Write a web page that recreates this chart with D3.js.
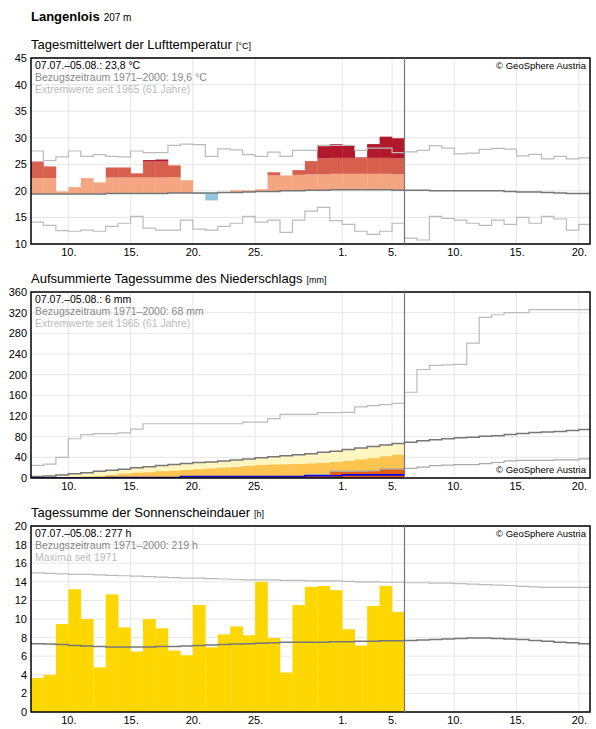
<!DOCTYPE html>
<html><head><meta charset="utf-8">
<script src="https://cdn.jsdelivr.net/npm/d3@7"></script>
<style>body{margin:0;background:#fff;font-family:"Liberation Sans",Arial,sans-serif}</style>
</head><body><svg id="c" width="596" height="729"></svg>
<script>
// ---- data (day index 0 = 07.07.) ----
const tickDays = [3,8,13,18,25,29,34,39,44];
const tickLabels = ["10.","15.","20.","25.","1.","5.","10.","15.","20."];
const tempObs = [25.5,24.6,19.9,20.7,22.4,21.6,24.4,24.4,23.3,25.8,25.9,24.8,22.0,19.4,18.2,19.7,20.1,20.1,20.3,23.5,22.9,23.9,25.6,28.4,28.8,28.6,26.3,28.8,30.2,29.9];
const tempMean = [19.4,19.4,19.4,19.4,19.4,19.4,19.5,19.5,19.5,19.5,19.5,19.6,19.6,19.6,19.6,19.7,19.7,19.8,19.9,19.9,20.0,20.0,20.1,20.1,20.2,20.2,20.2,20.2,20.2,20.1,20.1,20.1,20.0,20.0,20.0,20.0,20.0,20.0,19.9,19.8,19.8,19.7,19.6,19.5,19.5];
const tempMax = [27.5,25.7,26.4,27.5,26.5,26.8,26.5,26.4,27.5,27.2,27.2,28.55,28.8,28.7,26.5,27.9,27.7,26.8,26.5,27.3,26.5,27.6,27.6,28.55,28.55,28.55,27.6,28.05,28.05,27.2,27.35,27.6,28.5,28.05,26.95,27.1,27.8,28.0,27.85,26.6,26.85,26.0,26.5,26.0,26.2];
const tempMin = [14.1,13.5,12.5,12.4,12.6,12.4,13.3,13.9,15.2,13.0,12.6,12.6,14.5,12.8,12.6,13.3,13.9,15.2,14.1,14.5,12.2,14.5,16.2,16.9,14.4,13.7,12.4,11.8,12.4,13.9,11.1,10.75,15.2,14.8,14.5,13.9,13.5,14.5,13.7,15.0,13.9,15.2,14.7,12.6,13.7];

const precObs = [0,0,0,0,0,0,1,1,1,1,1,1,3,3,3,3,3,3,3,3,3,3,4.5,4.5,4.5,6,6,6,6,6];
const precMean = [3,4,6,8,10,13,15,17,20,22,24,26,28,30,31,33,35,37,39,41,43,45,47,50,52,55,58,61,64,67,69,72,74,76,78,79,81,82,84,86,88,89,90,92,94];
const precMax = [24.6,27,40,76,84,86,86,87.5,94.5,105,105,105,105,105,105,105,105,108,108,115,123,123,123,126.6,126.6,127,137.6,140,142,144.6,166,210,218,219,220,261,311,316,320,320,326,326,326,326,326];
const precMin = [0,0,0,0,0,0,0,0,0,0,0,0,0,0,0,0,0,0,0,0,0,0,7,7,13.5,13.5,13.5,14,17.5,17.5,18.5,21,24,25,26,26,28,30,33,34,34,34,35,35,37];
const precOrange = [0,0.5,1,2,3,4,6,8,10,11,13,14,15.5,17,18.5,20,21.5,23,25,26,26.5,27,28,29,31,33,36,38,42,45];
const precDark = [0,0,0,0,0,0,0,0,0,0,0,0,0,0,0,0,0,0,0,0,0,0,6,6,12,12,13,13,17,17];

const sunObs = [3.65,4.0,9.45,13.2,10.0,4.8,12.65,9.1,6.5,10.0,9.0,6.6,6.1,11.5,6.95,8.35,9.2,8.25,14.0,7.95,4.25,11.5,13.45,13.55,13.1,8.9,7.15,11.4,13.55,10.75];
const sunMax = [14.95,14.9,14.85,14.8,14.8,14.75,14.7,14.65,14.6,14.55,14.5,14.45,14.4,14.4,14.35,14.3,14.25,14.2,14.2,14.2,14.15,14.15,14.1,14.1,14.1,14.05,14.0,14.0,13.95,13.95,13.9,13.9,13.85,13.85,13.8,13.75,13.7,13.65,13.6,13.5,13.45,13.4,13.4,13.4,13.4];
const sunMean = [7.35,7.3,7.25,7.15,7.1,7.05,7.0,7.0,7.0,7.0,7.05,7.05,7.1,7.15,7.2,7.25,7.3,7.35,7.4,7.45,7.5,7.5,7.5,7.5,7.55,7.55,7.6,7.6,7.65,7.65,7.7,7.75,7.8,7.85,7.9,7.95,7.95,7.9,7.85,7.8,7.7,7.6,7.5,7.45,7.35];

// ---- drawing ----
const svg = d3.select("#c");
const L = 31, R = 590;
const x = d3.scaleLinear().domain([0,44.9]).range([L,R]);
const FONT = "Liberation Sans, Arial, sans-serif";

svg.append("text").attr("x",31).attr("y",21).attr("font-family",FONT)
  .attr("font-size",13).attr("font-weight","bold").text("Langenlois")
  .append("tspan").attr("font-weight","normal").attr("font-size",10).attr("dx",4).text("207 m");

function panel(top, bottom, dom, ticks, title, unit, legend, copyTop){
  const y = d3.scaleLinear().domain(dom).range([bottom, top]);
  const g = svg.append("g");
  g.append("text").attr("x",31).attr("y",top-9).attr("font-family",FONT).attr("font-size",13)
    .text(title).append("tspan").attr("font-size",9).attr("dx",4).text("["+unit+"]");
  const clipId = "cl"+top;
  svg.append("clipPath").attr("id",clipId).append("rect").attr("x",L).attr("y",top).attr("width",R-L).attr("height",bottom-top);
  const grid = g.append("g");
  grid.selectAll("line.h").data(ticks).join("line").attr("x1",L).attr("x2",R)
    .attr("y1",d=>y(d)).attr("y2",d=>y(d)).attr("stroke","#e6e6e6");
  grid.selectAll("line.v").data(tickDays).join("line").attr("y1",top).attr("y2",bottom)
    .attr("x1",d=>x(d)).attr("x2",d=>x(d)).attr("stroke","#e6e6e6");
  const yAx = g.append("g").attr("transform",`translate(${L},0)`)
    .call(d3.axisLeft(y).tickValues(ticks).tickSize(0).tickPadding(4).tickFormat(d3.format("d")));
  yAx.select(".domain").remove();
  yAx.selectAll("text").attr("font-family",FONT).attr("font-size",11).attr("fill","#000");
  const xAx = g.append("g").attr("transform",`translate(0,${bottom})`)
    .call(d3.axisBottom(x).tickValues(tickDays).tickSize(0).tickPadding(4).tickFormat((d,i)=>tickLabels[i]));
  xAx.select(".domain").remove();
  xAx.selectAll("text").attr("font-family",FONT).attr("font-size",11).attr("fill","#000");
  const body = g.append("g").attr("clip-path",`url(#${clipId})`);
  const fg = g.append("g");
  fg.append("rect").attr("x",L).attr("y",top).attr("width",R-L).attr("height",bottom-top)
    .attr("fill","none").attr("stroke","#000").attr("stroke-width",1.5);
  fg.append("line").attr("x1",x(30)).attr("x2",x(30)).attr("y1",top).attr("y2",bottom).attr("stroke","#777").attr("stroke-width",1.2);
  const cols=["#000","#888","#bbb"];
  legend.forEach((t,i)=>fg.append("text").attr("x",L+4).attr("y",top+11+i*12).attr("font-family",FONT)
    .attr("font-size",10.5).attr("fill",cols[i]).text(t));
  fg.append("text").attr("x",R-4).attr("y",copyTop? top+11 : bottom-5).attr("text-anchor","end")
    .attr("font-family",FONT).attr("font-size",9.5).text("© GeoSphere Austria");
  return {y, body, fg};
}
function step(arr){ const pts = arr.map((v,i)=>[i,v]); pts.push([arr.length, arr[arr.length-1]]); return pts; }
function stepLine(grp, y, arr, color, w){
  grp.append("path").attr("d", d3.line().x(d=>x(d[0])).y(d=>y(d[1])).curve(d3.curveStepAfter)(step(arr)))
    .attr("fill","none").attr("stroke",color).attr("stroke-width",w);
}

// Panel 1: temperature
{
  const p = panel(58,244,[10,45],[10,15,20,25,30,35,40,45],"Tagesmittelwert der Lufttemperatur","°C",
    ["07.07.–05.08.: 23,8 °C","Bezugszeitraum 1971–2000: 19,6 °C","Extremwerte seit 1965 (61 Jahre)"],true);
  const y = p.y;
  tempObs.forEach((v,i)=>{
    const m = tempMean[i];
    const bands = v>=m ? [[m,Math.min(v,m+3),"#f4a582"],[m+3,Math.min(v,m+6),"#d6604d"],[m+6,v,"#b2182b"]]
                       : [[v,m,"#92c5de"]];
    bands.forEach(b=>{ if(b[1]>b[0]) p.body.append("rect").attr("x",x(i)).attr("width",x(i+1)-x(i)+0.3)
      .attr("y",y(b[1])).attr("height",y(b[0])-y(b[1])).attr("fill",b[2]); });
  });
  stepLine(p.body,y,tempMax,"#bbb",1.2);
  stepLine(p.body,y,tempMin,"#bbb",1.2);
  stepLine(p.body,y,tempMean,"#777",1.5);
}
// Panel 2: precipitation
{
  const p = panel(292,478,[0,360],[0,40,80,120,160,200,240,280,320,360],"Aufsummierte Tagessumme des Niederschlags","mm",
    ["07.07.–05.08.: 6 mm","Bezugszeitraum 1971–2000: 68 mm","Extremwerte seit 1965 (61 Jahre)"],false);
  const y = p.y;
  const area = (top, bot, color)=>p.body.append("path").attr("fill",color)
    .attr("d", d3.area().x(d=>x(d[0])).y0(d=>y(d[2])).y1(d=>y(d[1])).curve(d3.curveStepAfter)(
      step(top).map((d,i)=>[d[0],d[1], bot ? bot[Math.min(i,bot.length-1)] : 0])));
  area(precMean.slice(0,30), null, "#fff6bf");
  area(precOrange, null, "#fec44f");
  area(precDark, null, "#dd5f16");
  stepLine(p.body,y,precMax,"#bbb",1.2);
  stepLine(p.body,y,precMin,"#aaa",1.2);
  stepLine(p.body,y,precMean,"#777",1.5);
  stepLine(p.body,y,precObs,"#0000e0",1.6);
}
// Panel 3: sunshine
{
  const p = panel(526,712,[0,20],[0,2,4,6,8,10,12,14,16,18,20],"Tagessumme der Sonnenscheindauer","h",
    ["07.07.–05.08.: 277 h","Bezugszeitraum 1971–2000: 219 h","Maxima seit 1971"],true);
  const y = p.y;
  p.body.selectAll("rect.s").data(sunObs).join("rect").attr("x",(d,i)=>x(i)).attr("width",(d,i)=>x(i+1)-x(i)+0.3)
    .attr("y",d=>y(d)).attr("height",d=>y(0)-y(d)).attr("fill","#ffd700");
  stepLine(p.body,y,sunMax,"#bbb",1.2);
  stepLine(p.body,y,sunMean,"#777",1.5);
}
</script></body></html>
